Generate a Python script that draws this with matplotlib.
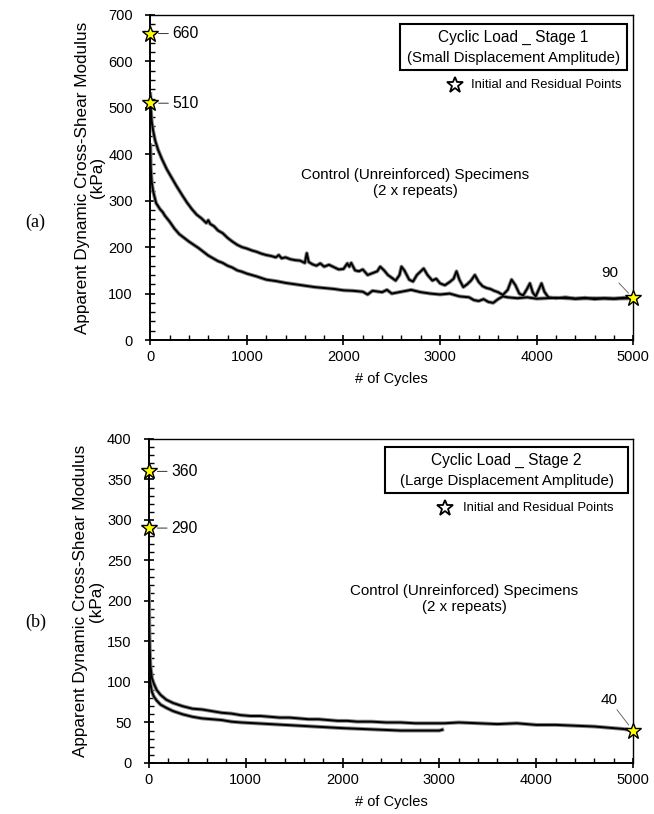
import numpy as np
import matplotlib.pyplot as plt
from matplotlib.patches import Rectangle
from matplotlib.ticker import MultipleLocator

plt.rcParams['font.family'] = ['Liberation Sans', 'DejaVu Sans']

# (a) stage 1 - two repeats
a1_x = [0, 5, 15, 30, 50, 80, 120, 170, 220, 270, 330, 380, 430, 480, 530, 580, 600, 620, 660, 700,
        750, 800, 850, 900, 950, 1000, 1050, 1100, 1150, 1200, 1250, 1300, 1330, 1360, 1400, 1450, 1500,
        1550, 1600, 1620, 1640, 1680, 1720, 1760, 1800, 1850, 1900, 1950, 2000, 2040, 2060, 2080, 2120,
        2160, 2200, 2250, 2300, 2350, 2380, 2420, 2460, 2500, 2540, 2580, 2600, 2630, 2680, 2720, 2760,
        2800, 2830, 2870, 2920, 2960, 3000, 3050, 3100, 3140, 3170, 3200, 3240, 3280, 3320, 3360, 3400,
        3440, 3480, 3520, 3560, 3600, 3650, 3700, 3740, 3780, 3820, 3860, 3900, 3930, 3960, 3990, 4020,
        4050, 4080, 4120, 4200, 4300, 4400, 4500, 4600, 4700, 4800, 4900, 5000]
a1_y = [530, 500, 470, 450, 430, 410, 390, 368, 350, 332, 312, 296, 282, 270, 262, 252, 258, 250, 245, 236,
        230, 220, 212, 205, 200, 197, 193, 190, 186, 183, 181, 178, 183, 176, 178, 174, 172,
        171, 166, 187, 168, 163, 160, 165, 158, 162, 157, 152, 153, 165, 158, 166, 150,
        148, 152, 140, 144, 148, 158, 150, 140, 134, 128, 140, 158, 150, 130, 126, 140,
        148, 154, 140, 128, 132, 122, 118, 125, 132, 148, 130, 114, 120, 128, 140, 125,
        116, 112, 110, 106, 103, 97, 108, 130, 118, 100, 96, 110, 122, 102, 94, 108,
        122, 104, 92, 90, 92, 89, 91, 88, 90, 89, 91, 90]

a2_x = [0, 5, 15, 30, 60, 100, 130, 150, 200, 250, 300, 350, 400, 450, 500, 550, 600, 650, 700, 750,
        800, 850, 900, 950, 1000, 1100, 1200, 1300, 1400, 1500, 1600, 1700, 1800, 1900, 2000, 2100,
        2200, 2250, 2300, 2400, 2450, 2500, 2600, 2700, 2800, 2900, 3000, 3100, 3200, 3300, 3350,
        3400, 3450, 3500, 3550, 3600, 3650, 3700, 3800, 3900, 4000, 4200, 4400, 4600, 4800, 5000]
a2_y = [420, 370, 340, 320, 295, 282, 275, 268, 255, 240, 228, 220, 212, 205, 198, 190, 182, 176, 170, 166,
        160, 156, 150, 147, 143, 137, 130, 127, 123, 120, 117, 114, 112, 110, 107, 106,
        104, 98, 106, 103, 108, 100, 104, 108, 103, 100, 98, 100, 94, 92, 86,
        84, 88, 82, 80, 88, 94, 92, 90, 92, 89, 91, 89, 90, 89, 90]

# (b) stage 2 - two repeats
b1_x = [0, 3, 8, 15, 30, 50, 80, 120, 180, 250, 350, 450, 550, 650, 750, 850, 950, 1050, 1150, 1250,
        1350, 1450, 1550, 1650, 1750, 1850, 1950, 2050, 2150, 2300, 2450, 2600, 2750, 2900, 3050, 3200,
        3400, 3600, 3800, 4000, 4200, 4400, 4600, 4800, 4900, 5000]
b1_y = [215, 170, 140, 120, 105, 98, 90, 84, 78, 74, 70, 67, 66, 64, 62, 61, 59, 58, 58, 57,
        56, 56, 55, 54, 54, 53, 52, 52, 51, 51, 50, 50, 49, 49, 49, 50,
        49, 48, 49, 47, 47, 46, 45, 43, 42, 40]

b2_x = [0, 3, 8, 15, 30, 50, 80, 120, 180, 250, 350, 450, 550, 650, 750, 850, 950, 1100, 1250, 1400,
        1550, 1700, 1850, 2000, 2200, 2400, 2600, 2800, 3000, 3030]
b2_y = [160, 130, 110, 98, 88, 82, 77, 72, 68, 64, 60, 57, 55, 54, 53, 51, 50, 49, 48, 47,
        46, 45, 44, 43, 42, 41, 40, 40, 40, 41]

# initial and residual points
a_star_x = [0, 0, 5000]
a_star_y = [660, 510, 90]
b_star_x = [0, 0, 5000]
b_star_y = [360, 290, 40]

fig = plt.figure(figsize=(6.54, 8.14), dpi=100)
ax1 = fig.add_axes([0.2298, 0.5823, 0.7385, 0.3993])
ax2 = fig.add_axes([0.2278, 0.0627, 0.7401, 0.3980])


def style_axes(ax, ymax, ymaj, ymin):
    ax.set_xlim(0, 5000)
    ax.set_ylim(0, ymax)
    ax.xaxis.set_major_locator(MultipleLocator(1000))
    ax.xaxis.set_minor_locator(MultipleLocator(200))
    ax.yaxis.set_major_locator(MultipleLocator(ymaj))
    ax.yaxis.set_minor_locator(MultipleLocator(ymin))
    ax.tick_params(which='major', direction='inout', length=7, width=1.2, labelsize=10.5)
    ax.tick_params(axis='y', which='major', pad=9)
    ax.tick_params(which='minor', direction='in', length=3.5, width=1)
    for s in ['left', 'bottom']:
        ax.spines[s].set_linewidth(1.4)
    for s in ['top', 'right']:
        ax.spines[s].set_linewidth(1.0)
    ax.set_xlabel('# of Cycles', fontsize=10.5, labelpad=6)
    ax.set_ylabel('Apparent Dynamic Cross-Shear Modulus\n(kPa)', fontsize=12.3, linespacing=1.05)
    ax.yaxis.set_label_coords(-0.093, 0.5)


style_axes(ax1, 700, 100, 20)
style_axes(ax2, 400, 50, 10)

for ax, xs, ys in [(ax1, a1_x, a1_y), (ax1, a2_x, a2_y), (ax2, b1_x, b1_y), (ax2, b2_x, b2_y)]:
    ax.plot(xs, ys, color='#888888', lw=2.8, zorder=2)
    ax.plot(xs, ys, color='black', lw=1.4, zorder=3)

ax1.plot(a_star_x, a_star_y, ls='none', marker='*', ms=12, mfc='#ffff00', mec='black', mew=1, clip_on=False, zorder=5)
ax2.plot(b_star_x, b_star_y, ls='none', marker='*', ms=12, mfc='#ffff00', mec='black', mew=1, clip_on=False, zorder=5)

lead = dict(arrowstyle='-', lw=0.7, color='#333333', shrinkA=1, shrinkB=6)
for ax, xs, ys in [(ax1, a_star_x, a_star_y), (ax2, b_star_x, b_star_y)]:
    for x, y in zip(xs[:2], ys[:2]):
        ax.annotate(str(y), xy=(x, y), xytext=(16, 0), textcoords='offset points',
                    ha='left', va='center', fontsize=11.3, arrowprops=lead)
ax1.annotate(str(a_star_y[2]), xy=(a_star_x[2], a_star_y[2]), xytext=(-17, 13), textcoords='offset points',
             ha='center', va='bottom', fontsize=11, arrowprops=dict(arrowstyle='-', lw=0.6, color='#555555', shrinkA=0, shrinkB=5))
ax2.annotate(str(b_star_y[2]), xy=(b_star_x[2], b_star_y[2]), xytext=(-17, 17), textcoords='offset points',
             ha='center', va='bottom', fontsize=11, arrowprops=dict(arrowstyle='-', lw=0.6, color='#555555', shrinkA=0, shrinkB=5))

# legend boxes
for ax, box, stage, amp, star_x, text_x, ctr in [
        (ax1, (0.518, 0.831, 0.468, 0.141), 'Cyclic Load _ Stage 1', '(Small Displacement Amplitude)', 0.631, 0.664, (0.549, 0.483)),
        (ax2, (0.488, 0.833, 0.502, 0.142), 'Cyclic Load _ Stage 2', '(Large Displacement Amplitude)', 0.612, 0.649, (0.651, 0.506))]:
    ax.add_patch(Rectangle(box[:2], box[2], box[3], transform=ax.transAxes, fill=False, ec='black', lw=1.5))
    cx = box[0] + box[2] / 2
    ax.text(cx, box[1] + box[3] * 0.70, stage, transform=ax.transAxes, ha='center', va='center', fontsize=11.2)
    ax.text(cx, box[1] + box[3] * 0.27, amp, transform=ax.transAxes, ha='center', va='center', fontsize=10.8)
    ax.plot([star_x], [0.786], transform=ax.transAxes, marker='*', ms=12, mfc='white', mec='black', mew=1.3, ls='none')
    ax.text(text_x, 0.786, 'Initial and Residual Points', transform=ax.transAxes, ha='left', va='center', fontsize=9.4)
    ax.text(ctr[0], ctr[1], 'Control (Unreinforced) Specimens\n(2 x repeats)', transform=ax.transAxes,
            ha='center', va='center', fontsize=10.9, linespacing=1.2)

fig.text(0.054, 0.727, '(a)', fontsize=13, family='Liberation Serif', ha='center', va='center')
fig.text(0.054, 0.236, '(b)', fontsize=13, family='Liberation Serif', ha='center', va='center')

fig.savefig('out.png', dpi=100)
